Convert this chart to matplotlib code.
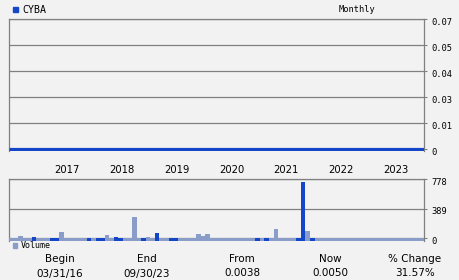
import matplotlib
matplotlib.use("Agg")
import matplotlib.pyplot as plt
from matplotlib.patches import Rectangle
from matplotlib.transforms import ScaledTranslation, blended_transform_factory

W, H = 460, 280
BG = "#f2f2f2"
GRID = "#808080"
BLUE = "#1446c8"
LIGHT = "#8a9cc8"
MONO = "DejaVu Sans Mono"
SANS = "DejaVu Sans"

# data (monthly, 03/2016 .. 09/2023 -> 91 months)
symbol = "CYBA"
years = ["2017", "2018", "2019", "2020", "2021", "2022", "2023"]
year_start_month = [10, 22, 34, 46, 58, 70, 82]

price_ticks = [0, 0.0135, 0.027, 0.0405, 0.054, 0.0675]
price_tick_labels = ["0", "0.01", "0.03", "0.04", "0.05", "0.07"]
vol_ticks = [0, 389, 778]
vol_tick_labels = ["0", "389", "778"]

# price line sits on the zero line over the whole period
price_months = [0, 91]
price_vals = [0.0, 0.0]

volume = [5, 10, 31, 5, 10, 22, 0, 10, 10, 8,
          8, 84, 0, 5, 0, 5, 8, 8, 5, 5,
          5, 44, 5, 22, 8, 8, 0, 280, 5, 8,
          18, 0, 70, 8, 0, 8, 8, 5, 0, 0,
          0, 57, 31, 57, 0, 0, 0, 0, 0, 5,
          5, 0, 0, 5, 5, 5, 5, 5, 123, 5,
          5, 5, 5, 8, 745, 96, 8, 5, 5, 5,
          0, 5, 5, 5, 5, 5, 5, 5, 5, 5,
          5, 5, 5, 5, 5, 0, 5, 5, 5, 5,
          5]
up_month = [0, 0, 0, 0, 0, 1, 0, 0, 0, 1,
            1, 0, 0, 0, 0, 0, 0, 1, 0, 1,
            1, 0, 0, 1, 1, 0, 0, 0, 0, 1,
            0, 0, 1, 0, 0, 1, 1, 0, 0, 0,
            0, 0, 0, 0, 0, 0, 0, 0, 0, 0,
            0, 0, 0, 0, 1, 0, 1, 0, 0, 0,
            0, 0, 0, 1, 1, 0, 1, 0, 0, 0,
            0, 0, 0, 0, 0, 0, 0, 0, 0, 0,
            0, 0, 0, 0, 0, 0, 0, 0, 0, 0,
            0]

summary_heads = ["Begin", "End", "From", "Now", "% Change"]
summary_vals = ["03/31/16", "09/30/23", "0.0038", "0.0050", "31.57%"]

fig = plt.figure(figsize=(W / 100, H / 100), dpi=100, facecolor=BG)


def px_axes(x0, y0, x1, y1):
    return fig.add_axes([x0 / W, 1 - y1 / H, (x1 - x0) / W, (y1 - y0) / H])


def fx(x):
    return x / W


def fy(y):
    return 1 - y / H


def style_panel(a):
    a.set_facecolor(BG)
    for side in ["left", "top", "right"]:
        a.spines[side].set_color(GRID)
        a.spines[side].set_linewidth(0.9)
    a.spines["bottom"].set_visible(False)
    a.set_xlim(0, len(volume))
    a.set_xticks([])
    a.yaxis.tick_right()
    a.tick_params(axis="y", length=2, width=0.8, color=GRID, pad=3,
                  labelsize=6.3, labelcolor="black")
    for lab in a.get_yticklabels():
        lab.set_family(MONO)
        lab.set_transform(lab.get_transform() +
                          ScaledTranslation(0, -1.8 / 100, fig.dpi_scale_trans))
    a.grid(axis="y", color=GRID, linewidth=0.9)
    a.set_axisbelow(True)


# price panel
ax = px_axes(9, 19.3, 424, 150.5)
ax.set_ylim(-0.00057, 0.0675)
ax.set_yticks(price_ticks)
ax.set_yticklabels(price_tick_labels)
style_panel(ax)
ax.plot(price_months, price_vals, color=BLUE, linewidth=2.3,
        solid_capstyle="butt", zorder=3)

tr = blended_transform_factory(ax.transData, ax.transAxes)
for yr, m in zip(years, year_start_month):
    ax.text(m, -0.148, yr, transform=tr, ha="left", va="center",
            fontsize=7.2, family=SANS, color="black")

# volume panel
vax = px_axes(9, 179.3, 424, 240.5)
vbottom = -29
vax.set_ylim(vbottom, 778)
vax.set_yticks(vol_ticks)
vax.set_yticklabels(vol_tick_labels)
style_panel(vax)
colors = [BLUE if u else LIGHT for u in up_month]
heights = [v - vbottom for v in volume]
vax.bar(range(len(volume)), heights, bottom=vbottom, width=1, align="edge",
        color=colors, linewidth=0, zorder=3)

# legends / headers
fig.add_artist(Rectangle((fx(13), fy(11.7)), fx(4.6), 4.6 / H,
                         transform=fig.transFigure, color=BLUE))
fig.text(fx(22.5), fy(9.6), symbol, ha="left", va="center",
         fontsize=7.2, family=MONO)
fig.text(fx(357), fy(9.2), "Monthly", ha="center", va="center",
         fontsize=6.2, family=MONO)
fig.add_artist(Rectangle((fx(13), fy(247.7)), fx(4.4), 4.4 / H,
                         transform=fig.transFigure, color=LIGHT))
fig.text(fx(20.8), fy(245.6), "Volume", ha="left", va="center",
         fontsize=6.0, family=MONO)

col_x = [60, 147, 242, 330, 415]
for x, head, val in zip(col_x, summary_heads, summary_vals):
    fig.text(fx(x), fy(259.5), head, ha="center", va="center",
             fontsize=7.5, family=SANS)
    fig.text(fx(x), fy(273.5), val, ha="center", va="center",
             fontsize=7.5, family=SANS)

fig.savefig("out.png", dpi=100, facecolor=BG)
